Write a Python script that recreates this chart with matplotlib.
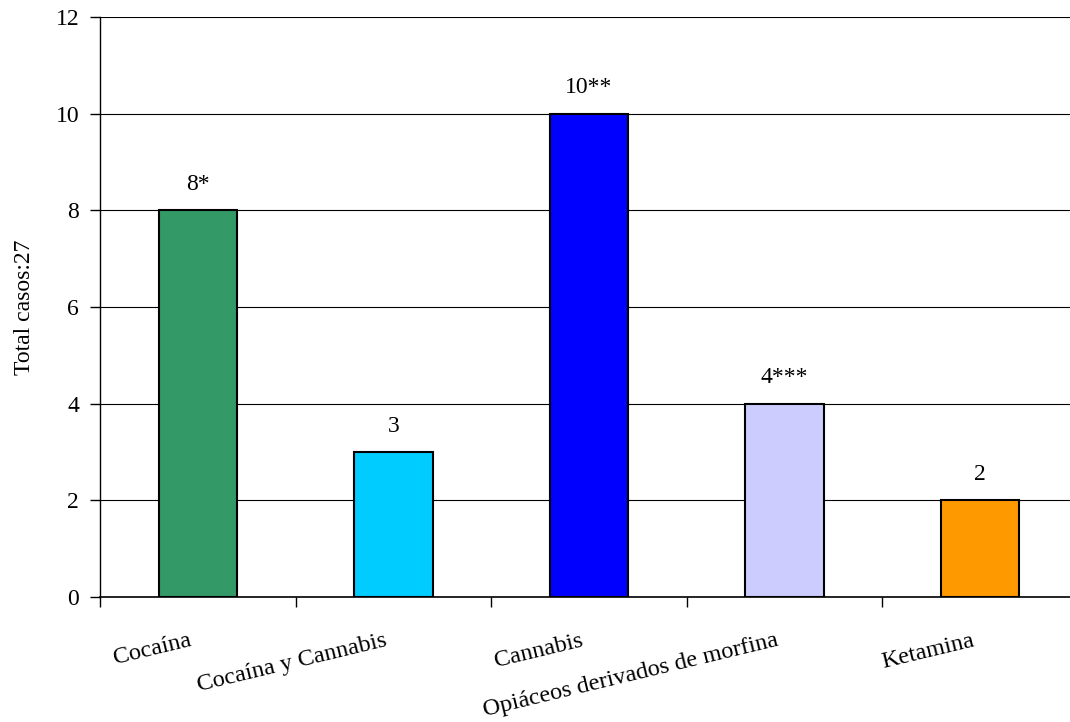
import matplotlib
matplotlib.use("Agg")
import matplotlib.pyplot as plt
import numpy as np

categories = ["Cocaína", "Cocaína y Cannabis", "Cannabis",
              "Opiáceos derivados de morfina", "Ketamina"]
values = [8, 3, 10, 4, 2]
value_labels = ["8*", "3", "10**", "4***", "2"]
colors = ["#339966", "#00CCFF", "#0000FF", "#CCCCFF", "#FF9900"]
y_ticks = [0, 2, 4, 6, 8, 10, 12]
y_label = "Total casos:27"

plt.rcParams['font.family'] = ['Liberation Serif', 'DejaVu Serif']
FS = 17

fig = plt.figure(figsize=(10.70, 7.22), dpi=100)
ax = fig.add_axes([100/1070, 1 - 597/722, 978/1070, 580/722])

x = np.arange(len(categories))
ax.bar(x, values, width=0.4, color=colors, edgecolor='black', linewidth=1.5, zorder=3)

for xi, v, lab in zip(x, values, value_labels):
    ax.annotate(lab, (xi, v), xytext=(0, 18.5), textcoords='offset points',
                ha='center', va='center', fontsize=FS)

ax.set_xlim(-0.5, len(categories) - 0.5)
ax.set_ylim(0, 12)
ax.set_yticks(y_ticks)
ax.yaxis.grid(True, color='black', linewidth=0.8, zorder=0)
ax.set_axisbelow(True)

# category labels anchored slightly left of each bar centre
label_offset = 0.046
ax.set_xticks(x - label_offset)
ax.set_xticklabels(categories, rotation=13.5, ha='right', va='top',
                   rotation_mode='anchor', fontsize=FS + 0.5)
ax.set_xticks(np.arange(len(categories) + 1) - 0.5, minor=True)
ax.tick_params(axis='x', which='major', length=0, pad=24)
ax.tick_params(axis='x', which='minor', length=7, direction='out', width=1)
ax.tick_params(axis='y', length=7, direction='out', width=1, labelsize=FS, pad=8)

ax.spines['top'].set_visible(False)
ax.spines['right'].set_visible(False)
ax.spines['left'].set_linewidth(1.0)
ax.spines['bottom'].set_linewidth(1.2)

ax.set_ylabel(y_label, fontsize=FS)
ax.yaxis.set_label_coords(-65/978, 0.5)

fig.savefig("out.png", dpi=100)
